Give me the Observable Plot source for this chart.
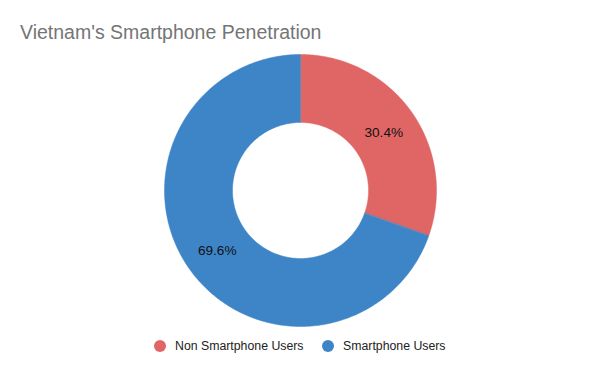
<!DOCTYPE html>
<html>
<head>
<meta charset="utf-8">
<script src="https://cdn.jsdelivr.net/npm/d3@7"></script>
<script src="https://cdn.jsdelivr.net/npm/@observablehq/plot@0.6"></script>
<style>
  html, body { margin: 0; padding: 0; background: #fff; }
  body { width: 600px; height: 371px; position: relative; overflow: hidden; font-family: "Liberation Sans", Arial, sans-serif; }
  #title { position: absolute; left: 20px; top: 21px; font-size: 19.5px; color: #757575; white-space: nowrap; }
  #chart { position: absolute; left: 0; top: 0; }
  #legend { position: absolute; left: 0; top: 339px; width: 600px; font-size: 12.3px; color: #222; }
  .item { position: absolute; display: flex; align-items: center; white-space: nowrap; }
  .sw { width: 12px; height: 12px; border-radius: 50%; margin-right: 9px; }
</style>
</head>
<body>
<div id="title">Vietnam's Smartphone Penetration</div>
<div id="chart"></div>
<div id="legend"></div>
<script>
const categories = ["Non Smartphone Users", "Smartphone Users"];
const values = [30.4, 69.6];
const colors = ["#e06666", "#3d85c6"];

const innerRatio = 0.5;
const total = d3.sum(values);
const pie = d3.pie().sort(null).value(d => d)(values);

// build ring polygons from pie angles
const ring = [];
pie.forEach((p, i) => {
  const n = 240;
  const outer = d3.range(n + 1).map(k => p.startAngle + (p.endAngle - p.startAngle) * k / n);
  outer.forEach(a => ring.push({cat: categories[i], x: Math.sin(a), y: Math.cos(a)}));
  outer.slice().reverse().forEach(a => ring.push({cat: categories[i], x: innerRatio * Math.sin(a), y: innerRatio * Math.cos(a)}));
});

const labels = pie.map((p, i) => {
  const a = (p.startAngle + p.endAngle) / 2;
  const r = (1 + innerRatio) / 2;
  return {x: r * Math.sin(a), y: r * Math.cos(a), text: (values[i] / total * 100).toFixed(1) + "%"};
});

const chart = Plot.plot({
  width: 600,
  height: 371,
  marginLeft: 164,
  marginRight: 164,
  marginTop: 54,
  marginBottom: 45,
  x: {domain: [-1, 1], axis: null},
  y: {domain: [-1, 1], axis: null},
  color: {domain: categories, range: colors},
  style: {fontFamily: "Liberation Sans, Arial, sans-serif", background: "transparent"},
  marks: [
    Plot.line(ring, {x: "x", y: "y", z: "cat", fill: "cat", stroke: "cat", strokeWidth: 0.5, curve: "linear-closed"}),
    Plot.text(labels, {x: "x", y: "y", dy: 1, text: "text", fill: "#111", fontSize: 13.6})
  ]
});
document.getElementById("chart").appendChild(chart);

const legend = document.getElementById("legend");
const lx = [154, 322];
categories.forEach((c, i) => {
  const it = document.createElement("div");
  it.className = "item";
  it.style.left = lx[i] + "px";
  const sw = document.createElement("span");
  sw.className = "sw";
  sw.style.background = colors[i];
  const t = document.createElement("span");
  t.textContent = c;
  it.appendChild(sw); it.appendChild(t);
  legend.appendChild(it);
});
</script>
</body>
</html>
